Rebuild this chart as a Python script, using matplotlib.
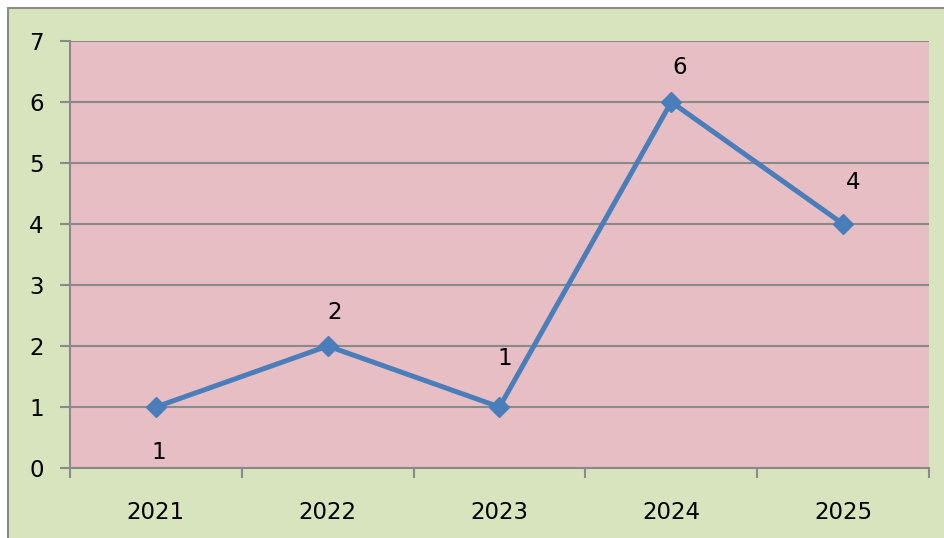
import matplotlib
matplotlib.use("Agg")
import matplotlib.pyplot as plt
from matplotlib.patches import Rectangle

# Values per year
years = ["2021", "2022", "2023", "2024", "2025"]
counts = [1, 2, 1, 6, 4]
# label offsets (points) relative to each marker
label_offsets = [(2, -33), (5, 24), (4, 35), (6, 25), (7, 30)]

fig = plt.figure(figsize=(9.45, 5.38), dpi=100)
fig.patch.set_facecolor("white")

# outer green chart area with grey border
fig.patches.append(Rectangle((8 / 945, -0.05), 1.2, 1.05 - 8 / 538,
                             transform=fig.transFigure, facecolor="#d7e4bd",
                             edgecolor="#8c8c8c", linewidth=1.5, zorder=-10))

ax = fig.add_axes([70 / 945, 70 / 538, 859 / 945, 427 / 538])
ax.set_zorder(1)
ax.set_facecolor("#e7bec4")

x = list(range(len(years)))
ax.plot(x, counts, color="#4a7ebb", linewidth=3.6, marker="D",
        markersize=10.5, zorder=3, clip_on=False)

for xi, v, off in zip(x, counts, label_offsets):
    ax.annotate(str(v), (xi, v), xytext=off, textcoords="offset points",
                ha="center", va="center", fontsize=16.5, color="black")

ax.set_xlim(-0.5, len(years) - 0.5)
ax.set_ylim(0, 7)
ax.set_yticks(range(0, 8))
ax.yaxis.grid(True, color="#8a8a8a", linewidth=1.5)
ax.set_axisbelow(True)

ax.set_xticks([i - 0.5 for i in range(len(years) + 1)])
ax.set_xticklabels([])
ax.set_xticks(x, minor=True)
ax.set_xticklabels(years, minor=True)
ax.tick_params(axis="x", which="major", length=7, width=1.5, color="#8a8a8a")
ax.tick_params(axis="x", which="minor", length=0, pad=24, labelsize=16.5)
ax.tick_params(axis="y", length=7, width=1.5, color="#8a8a8a", pad=12, labelsize=16.5)

for side in ["top", "right"]:
    ax.spines[side].set_visible(False)
for side in ["left", "bottom"]:
    ax.spines[side].set_color("#8a8a8a")
    ax.spines[side].set_linewidth(1.5)

plt.savefig("out.png", dpi=100)
plt.close()
